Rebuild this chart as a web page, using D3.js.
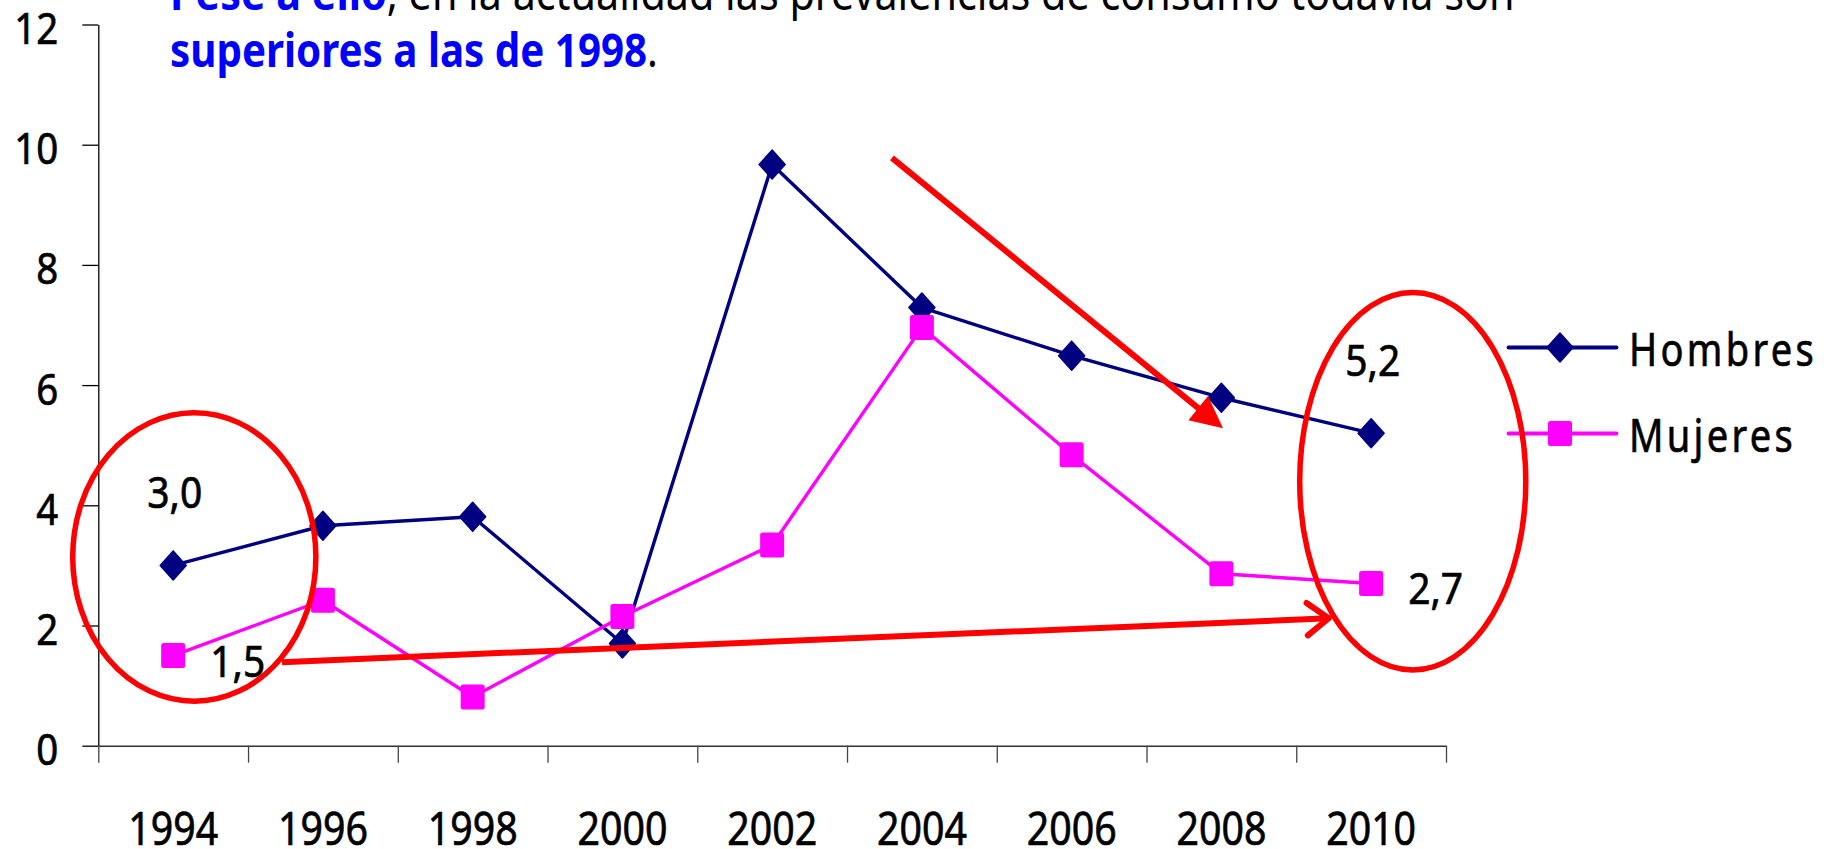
<!DOCTYPE html>
<html>
<head>
<meta charset="utf-8">
<script src="https://cdn.jsdelivr.net/npm/d3@7"></script>
<style>
  html, body { margin: 0; padding: 0; background: #ffffff; }
  svg { display: block; }
  text { font-family: "Noto Sans", "Open Sans", "DejaVu Sans", sans-serif; }
</style>
</head>
<body>
<svg id="chart" width="1829" height="849"></svg>
<script>
// ---- data ----
const years = ["1994", "1996", "1998", "2000", "2002", "2004", "2006", "2008", "2010"];
const hombres = [3.0, 3.66, 3.81, 1.70, 9.67, 7.29, 6.49, 5.79, 5.2];
const mujeres = [1.5, 2.42, 0.81, 2.15, 3.34, 6.96, 4.84, 2.86, 2.7];
const yTicks = [0, 2, 4, 6, 8, 10, 12];
const seriesNames = ["Hombres", "Mujeres"];
// value labels: [series index, category index, placement]
const valueLabels = [[0, 0, "above"], [0, 8, "above"], [1, 0, "right"], [1, 8, "right"]];

const titleLine1 = [["Pese a ello", "bold"], [", en la actualidad las prevalencias de consumo todavía son", "normal"]];
const titleLine2 = [["superiores a las de 1998", "bold"], [".", "normal"]];

// ---- layout ----
const plot = { left: 98.3, right: 1446, top: 24.5, bottom: 745.7 };
const colors = { hombres: "#000080", mujeres: "#FF00FF", accent: "#FF0000", blue: "#0000FF" };

const svg = d3.select("#chart");

const x = d3.scaleBand().domain(years).range([plot.left, plot.right]).padding(0);
const xc = d => x(d) + x.bandwidth() / 2;
// continuous category-index scale, used for tick boundaries and annotations
const xi = d3.scaleLinear().domain([0, years.length]).range([plot.left, plot.right]);
const y = d3.scaleLinear().domain([0, 12]).range([plot.bottom, plot.top]);

// scale a text node horizontally around a given anchor x
function squeeze(node, targetW, ax) {
  const w = node.getBBox().width;
  const s = targetW / w;
  d3.select(node).attr("transform", `translate(${ax},0) scale(${s},1) translate(${-ax},0)`);
  return s;
}
// slightly heavier glyphs for the chart labels
function heavy(sel) {
  return sel.attr("stroke", "#000").attr("stroke-width", 0.7).attr("paint-order", "stroke");
}

// ---- y axis ----
const yAxis = svg.append("g")
  .attr("transform", `translate(${plot.left},0)`)
  .call(d3.axisLeft(y).tickValues(yTicks).tickSize(16).tickSizeOuter(0).tickPadding(24));
yAxis.select(".domain").attr("stroke", "#000").attr("stroke-width", 1.3);
yAxis.selectAll(".tick line").attr("stroke", "#000").attr("stroke-width", 1.3);
heavy(yAxis.selectAll(".tick text")
  .attr("fill", "#000").attr("font-size", 44).attr("dy", "0.43em"));
{
  const ref = yAxis.selectAll(".tick text").filter(d => d === 10).node();
  const s = 44 / ref.getBBox().width;
  yAxis.selectAll(".tick text").each(function () {
    const ax = +d3.select(this).attr("x");
    d3.select(this).attr("transform", `translate(${ax},0) scale(${s},1) translate(${-ax},0)`);
  });
}

// ---- x axis: boundary ticks ----
const xTickAxis = svg.append("g")
  .attr("transform", `translate(0,${plot.bottom})`)
  .call(d3.axisBottom(xi).tickValues(d3.range(0, years.length + 1)).tickSize(17).tickSizeOuter(0).tickFormat(""));
xTickAxis.select(".domain").attr("stroke", "#333").attr("stroke-width", 1.5);
xTickAxis.selectAll(".tick line").attr("stroke", "#444").attr("stroke-width", 1.3);

// ---- x axis: category labels ----
const xLabelAxis = svg.append("g")
  .attr("transform", `translate(0,${plot.bottom})`)
  .call(d3.axisBottom(x).tickSize(0).tickPadding(0));
xLabelAxis.select(".domain").remove();
heavy(xLabelAxis.selectAll(".tick text")
  .attr("fill", "#000").attr("font-size", 46).attr("dy", null).attr("y", 99.5));
{
  const ref = xLabelAxis.selectAll(".tick text").node();
  const s = 90 / ref.getBBox().width;
  xLabelAxis.selectAll(".tick text").attr("transform", `scale(${s},1)`);
}

// ---- series ----
const series = [
  { name: seriesNames[0], values: hombres, color: colors.hombres, shape: "diamond" },
  { name: seriesNames[1], values: mujeres, color: colors.mujeres, shape: "square" }
];

const diamondPath = "M0,-14.5L13,0L0,14.5L-13,0Z";
function drawMarker(g, shape, color) {
  if (shape === "diamond") {
    g.append("path").attr("d", diamondPath)
      .attr("fill", color).attr("stroke", color).attr("stroke-width", 1.5).attr("stroke-linejoin", "round");
  } else {
    g.append("rect").attr("x", -12).attr("y", -12.5).attr("width", 24).attr("height", 25)
      .attr("rx", 2.5).attr("fill", color);
  }
}

const line = d3.line().x((d, i) => xc(years[i])).y(d => y(d));

series.forEach(s => {
  svg.append("path").datum(s.values)
    .attr("d", line).attr("fill", "none")
    .attr("stroke", s.color).attr("stroke-width", 3.4).attr("stroke-linejoin", "round");
  svg.append("g").selectAll("g").data(s.values).join("g")
    .attr("transform", (d, i) => `translate(${xc(years[i])},${y(d)})`)
    .each(function () { drawMarker(d3.select(this), s.shape, s.color); });
});

// ---- value labels ----
const fmt = v => d3.format(".1f")(v).replace(".", ",");
let labelScale = null;
valueLabels.forEach(([si, ci, place]) => {
  const v = series[si].values[ci];
  const px = xc(years[ci]), py = y(v);
  const t = heavy(svg.append("text")
    .attr("font-size", 43).attr("fill", "#000")
    .text(fmt(v)));
  let ax;
  if (place === "above") {
    ax = px + 1.6;
    t.attr("x", ax).attr("y", py - 57.5).attr("text-anchor", "middle");
  } else {
    ax = px + 37;
    t.attr("x", ax).attr("y", py + 21).attr("text-anchor", "start");
  }
  if (labelScale === null) labelScale = 55 / t.node().getBBox().width;
  t.attr("transform", `translate(${ax},0) scale(${labelScale},1) translate(${-ax},0)`);
});

// ---- legend ----
const legend = svg.append("g");
const legendRows = [347.5, 433.5];
series.forEach((s, i) => {
  const g = legend.append("g").attr("transform", `translate(0,${legendRows[i]})`);
  g.append("line").attr("x1", 1508.5).attr("x2", 1616.5)
    .attr("stroke", s.color).attr("stroke-width", 3.8).attr("stroke-linecap", "round");
  const m = g.append("g").attr("transform", "translate(1560,0)");
  drawMarker(m, s.shape, s.color);
  const t = heavy(g.append("text").attr("x", 1629).attr("y", 18.5)
    .attr("font-size", 46).attr("letter-spacing", 4).attr("fill", "#000").text(s.name));
  squeeze(t.node(), i === 0 ? 188 : 167, 1629);
});

// ---- heading text ----
function drawLine(parts, yBase, targetW) {
  const t = svg.append("text").attr("x", 170).attr("y", yBase).attr("font-size", 47);
  parts.forEach(([str, weight]) => {
    t.append("tspan")
      .attr("font-weight", weight === "bold" ? 700 : 400)
      .attr("fill", weight === "bold" ? colors.blue : "#000")
      .text(str);
  });
  squeeze(t.node(), targetW, 170);
}
drawLine(titleLine1, 10, 1345);
drawLine(titleLine2, 66.7, 488);

// ---- annotations (category-index / value units) ----
const ann = svg.append("g").attr("fill", "none").attr("stroke", colors.accent).attr("stroke-width", 6);

// circled start and end points
[[0.641, 3.14, 0.812, 2.40], [8.778, 4.40, 0.755, 3.14]].forEach(([ci, cv, rxi, ryv]) => {
  ann.append("ellipse")
    .attr("cx", xi(ci)).attr("cy", y(cv))
    .attr("rx", xi(ci + rxi) - xi(ci)).attr("ry", y(cv) - y(cv + ryv))
    .attr("stroke-width", 5.5);
});

// falling trend arrow with solid head
{
  const x0 = xi(5.30), y0 = y(9.78), x1 = xi(7.511), y1 = y(5.28);
  const dx = x1 - x0, dy = y1 - y0, L = Math.hypot(dx, dy);
  const ux = dx / L, uy = dy / L, hl = 32, hw = 15.5;
  const bx = x1 - ux * hl, by = y1 - uy * hl;
  ann.append("line").attr("x1", x0).attr("y1", y0).attr("x2", bx + ux * 2).attr("y2", by + uy * 2);
  ann.append("path")
    .attr("d", `M${x1},${y1}L${bx - uy * hw},${by + ux * hw}L${bx + uy * hw},${by - ux * hw}Z`)
    .attr("fill", colors.accent).attr("stroke", "none");
}

// long-term rise arrow with open head
{
  const x0 = xi(1.227), y0 = y(1.39), x1 = xi(8.217), y1 = y(2.12);
  const ang = Math.atan2(y1 - y0, x1 - x0);
  ann.append("line").attr("x1", x0).attr("y1", y0).attr("x2", x1).attr("y2", y1);
  const al = 27, spread = 37 * Math.PI / 180;
  const p1 = [x1 - al * Math.cos(ang - spread), y1 - al * Math.sin(ang - spread)];
  const p2 = [x1 - al * Math.cos(ang + spread), y1 - al * Math.sin(ang + spread)];
  ann.append("path")
    .attr("d", `M${p1[0]},${p1[1]}L${x1},${y1}L${p2[0]},${p2[1]}`)
    .attr("stroke-linecap", "round").attr("stroke-linejoin", "round");
}
</script>
</body>
</html>
